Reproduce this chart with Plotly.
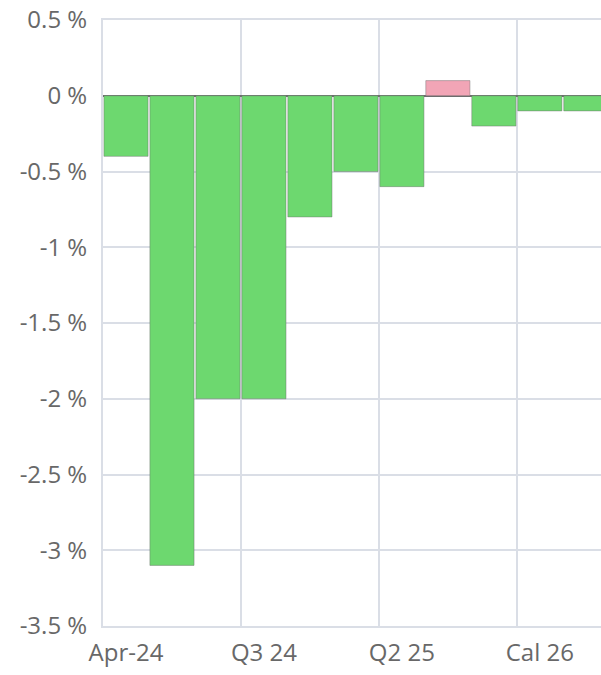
import plotly.graph_objects as go

# Period labels and percentage changes
periods = ["Apr-24", "May-24", "Jun-24", "Q3 24", "Q4 24", "Q1 25",
           "Q2 25", "Q3 25", "Q4 25", "Cal 26", "Cal 27"]
change_pct = [-0.4, -3.1, -2.0, -2.0, -0.8, -0.5, -0.6, 0.1, -0.2, -0.1, -0.1]

# Axis ticks
x_tick_periods = ["Apr-24", "Q3 24", "Q2 25", "Cal 26"]
y_tick_vals = [0.5, 0, -0.5, -1, -1.5, -2, -2.5, -3, -3.5]
y_tick_text = ["0.5 %", "0 %", "-0.5 %", "-1 %", "-1.5 %", "-2 %", "-2.5 %", "-3 %", "-3.5 %"]

GREEN = "#6dd86f"
PINK = "#f2a5b6"
bar_colors = [PINK if v > 0 else GREEN for v in change_pct]

# Bars sit on integer slots; labelled periods get a grid line on their left boundary
x_pos = list(range(len(periods)))
x_tick_pos = [periods.index(p) for p in x_tick_periods]
x_grid_pos = [p - 0.5 for p in x_tick_pos]

fig = go.Figure(go.Bar(
    x=x_pos,
    y=change_pct,
    marker=dict(color=bar_colors, line=dict(color="rgba(110,110,110,0.45)", width=1)),
    hovertext=periods,
    hoverinfo="text+y",
))

font_family = "Open Sans, Noto Sans, sans-serif"
grid = "#dadee6"
text_color = "#686868"

fig.update_layout(
    width=601,
    height=675,
    margin=dict(l=103, r=0, t=20, b=49),
    paper_bgcolor="white",
    plot_bgcolor="white",
    bargap=0.04,
    showlegend=False,
    font=dict(family=font_family, size=24, color=text_color),
)

fig.update_xaxes(
    range=[-0.5, 10.33],
    tickmode="array",
    tickvals=x_tick_pos,
    ticktext=x_tick_periods,
    tickangle=0,
    ticks="",
    ticklabelstandoff=4,
    showgrid=False,
    minor=dict(tickmode="array", tickvals=x_grid_pos, showgrid=True,
               gridcolor=grid, gridwidth=2, ticks=""),
    zeroline=False,
    showline=True,
    mirror=True,
    linecolor=grid,
    linewidth=2,
    automargin=False,
    tickfont=dict(size=24, color=text_color),
)

fig.update_yaxes(
    range=[-3.5, 0.5],
    tickmode="array",
    tickvals=y_tick_vals,
    ticktext=y_tick_text,
    showgrid=True,
    gridcolor=grid,
    gridwidth=2,
    zeroline=True,
    zerolinecolor="#6e6e6e",
    zerolinewidth=2,
    showline=True,
    linecolor=grid,
    linewidth=2,
    ticks="",
    ticklabelstandoff=9,
    automargin=False,
    tickfont=dict(size=24, color=text_color),
)

fig.write_html("out.html")
